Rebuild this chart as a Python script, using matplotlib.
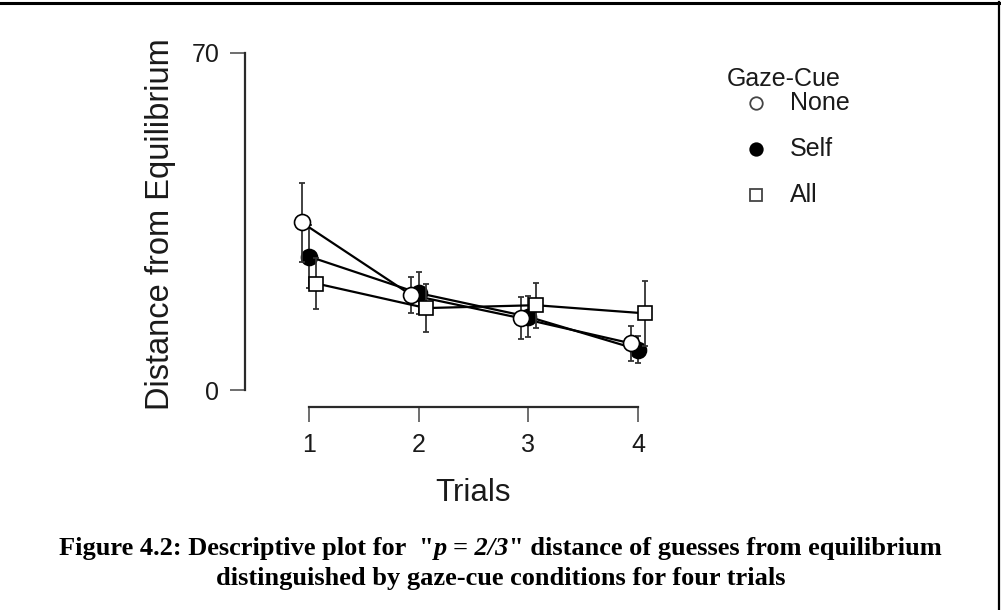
import matplotlib
matplotlib.use("Agg")
import matplotlib.pyplot as plt
from matplotlib.lines import Line2D
import numpy as np

# Data: mean distance from equilibrium per trial and gaze-cue condition
trials = [1, 2, 3, 4]
none_mean = [34.8, 19.7, 14.9, 9.7]
none_err = [8.2, 3.8, 4.3, 3.6]
self_mean = [27.7, 20.1, 15.2, 8.4]
self_err = [6.6, 4.4, 4.3, 2.8]
all_mean = [22.1, 17.0, 17.6, 15.9]
all_err = [5.3, 5.0, 4.7, 6.7]
x_ticks = [1, 2, 3, 4]
y_ticks = [0, 70]

W, H = 1001, 610
fig = plt.figure(figsize=(W / 100, H / 100), dpi=100)
plt.rcParams["font.family"] = ["Liberation Sans", "DejaVu Sans"]
txt = "#1a1a1a"

# axes placed in pixel terms
left_px, right_px, top_px, bottom_px = 245, 680, 52.7, 407
ax = fig.add_axes([left_px / W, 1 - bottom_px / H,
                   (right_px - left_px) / W, (bottom_px - top_px) / H])
ppu_y = (390 - 52.7) / 70.0
ppu_x = (638 - 309) / 3.0
ax.set_ylim(-(bottom_px - 390) / ppu_y, 70)
ax.set_xlim(1 - (309 - left_px) / ppu_x, 4 + (right_px - 638) / ppu_x)

dodge = 0.068
x = np.array(trials, dtype=float)
series = [
    ("Self", self_mean, self_err, 0.0, "o", "black", 11.5, 3),
    ("None", none_mean, none_err, -dodge, "o", "white", 11.5, 4),
    ("All", all_mean, all_err, dodge, "s", "white", 10.5, 5),
]
for name, m, e, dx, mk, fc, ms, z in series:
    ax.errorbar(x + dx, m, yerr=e, fmt="none", ecolor="#333333",
                elinewidth=1.3, capsize=2.3, capthick=1.3, zorder=z)
    ax.plot(x + dx, m, color="black", lw=1.6, marker=mk, ms=ms,
            mfc=fc, mec="black", mew=1.2, zorder=z + 0.5)

for s in ["top", "right"]:
    ax.spines[s].set_visible(False)
ax.spines["left"].set_bounds(0, 70)
ax.spines["bottom"].set_bounds(1, 4)
for s in ["left", "bottom"]:
    ax.spines[s].set_linewidth(1.6)
    ax.spines[s].set_color("#2a2a2a")
ax.set_xticks(x_ticks)
ax.set_yticks(y_ticks)
ax.tick_params(axis="both", length=10.5, width=1.2, color="#555555",
               labelsize=18, labelcolor=txt)
ax.tick_params(axis="y", pad=8)
ax.tick_params(axis="x", pad=8)
ax.patch.set_alpha(0)

ax.set_xlabel("Trials", fontsize=22.5, color=txt, va="center")
ax.set_ylabel("Distance from Equilibrium", fontsize=23.5, color=txt, va="center")
ax.yaxis.set_label_coords(160 / W, 1 - 224 / H, transform=fig.transFigure)
ax.xaxis.set_label_coords(473 / W, 1 - 493 / H, transform=fig.transFigure)

# legend
handles = [
    Line2D([], [], ls="none", marker="o", ms=9, mfc="white", mec="#444444", mew=1.3),
    Line2D([], [], ls="none", marker="o", ms=9, mfc="black", mec="black", mew=1.3),
    Line2D([], [], ls="none", marker="s", ms=8, mfc="white", mec="#444444", mew=1.3),
]
fig.text(727 / W, 1 - 79 / H, "Gaze-Cue", fontsize=18, color=txt,
         ha="left", va="center")
for i, (h, lab) in enumerate(zip(handles, ["None", "Self", "All"])):
    yy = 1 - (103 + 46 * i) / H
    fig.add_artist(Line2D([756 / W], [yy], ls="none", marker=h.get_marker(),
                          ms=h.get_markersize(), mfc=h.get_markerfacecolor(),
                          mec=h.get_markeredgecolor(), mew=1.3,
                          transform=fig.transFigure))
    fig.text(790 / W, yy, lab, fontsize=18, color=txt, ha="left", va="center")

# caption
cap_fs = 19
renderer = fig.canvas.get_renderer()
parts = [('Figure 4.2: Descriptive plot for  "', "normal"),
         ("p = 2/3", "italic"),
         ('" distance of guesses from equilibrium', "normal")]
tmp = [fig.text(0, 0, p, fontsize=cap_fs, family="Liberation Serif",
                weight="bold", style=st) for p, st in parts]
widths = [t.get_window_extent(renderer).width for t in tmp]
for t in tmp:
    t.remove()
total = sum(widths)
xs = W / 2 - total / 2
for (p, st), w in zip(parts, widths):
    fig.text(xs / W, 1 - 548 / H, p, fontsize=cap_fs, family="Liberation Serif",
             weight="bold", style=st, ha="left", va="center", color="black")
    xs += w
fig.text(0.5, 1 - 578 / H, "distinguished by gaze-cue conditions for four trials",
         fontsize=cap_fs, family="Liberation Serif", weight="bold",
         ha="center", va="center", color="black")

# page frame (top and right edges)
fig.add_artist(Line2D([0, 1], [1 - 2.5 / H, 1 - 2.5 / H], color="black",
                      lw=2.2, transform=fig.transFigure))
fig.add_artist(Line2D([1 - 2 / W, 1 - 2 / W], [0, 1 - 2 / H], color="black",
                      lw=1.6, transform=fig.transFigure))

fig.savefig("out.png", dpi=100)
